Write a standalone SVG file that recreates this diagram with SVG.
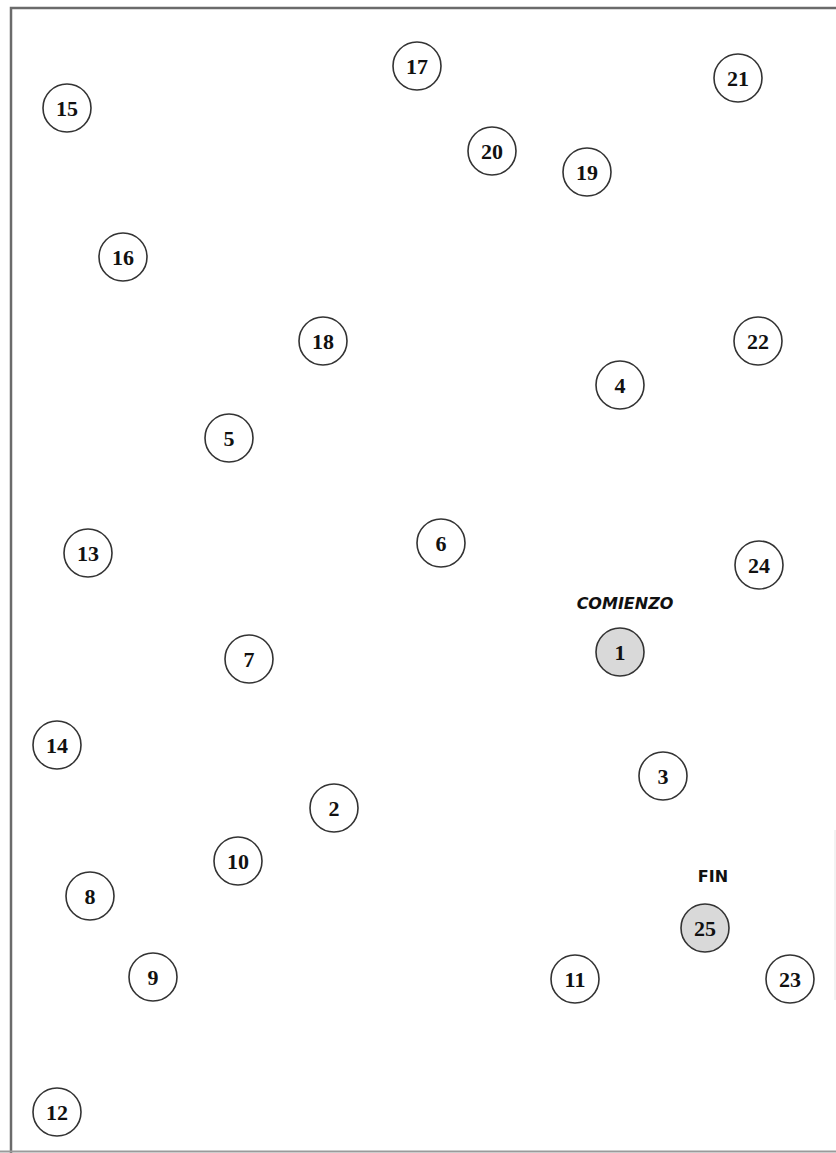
<svg xmlns="http://www.w3.org/2000/svg" width="836" height="1153" viewBox="0 0 836 1153">
<style>
.n circle{fill:#fff;stroke:#333;stroke-width:1.6}
.n.g circle{fill:#d9d9d9}
.n text{font-family:"Liberation Serif",serif;font-weight:bold;font-size:22px;fill:#111;text-anchor:middle}
.lbl{font-family:"DejaVu Sans",sans-serif;font-weight:bold;font-size:16px;fill:#111;text-anchor:middle}
.frame{fill:none;stroke:#6b6b6b;stroke-width:2.5}
</style>
<rect width="836" height="1153" fill="#fff"/>
<g id="frame">
<path class="frame" d="M11,1153 V8 H836"/>
<path d="M0,1151.5 H836" stroke="#9a9a9a" stroke-width="2" fill="none"/>
<path d="M835,830 V1000" stroke="#e6e6e6" stroke-width="1" fill="none"/>
</g>
<g id="connectors"></g>
<g id="n15" class="n"><circle cx="67" cy="108" r="24"/><text x="67" y="116">15</text></g>
<g id="n17" class="n"><circle cx="417" cy="66" r="24"/><text x="417" y="74">17</text></g>
<g id="n21" class="n"><circle cx="738" cy="78" r="24"/><text x="738" y="86">21</text></g>
<g id="n20" class="n"><circle cx="492" cy="151" r="24"/><text x="492" y="159">20</text></g>
<g id="n19" class="n"><circle cx="587" cy="172" r="24"/><text x="587" y="180">19</text></g>
<g id="n16" class="n"><circle cx="123" cy="257" r="24"/><text x="123" y="265">16</text></g>
<g id="n18" class="n"><circle cx="323" cy="341" r="24"/><text x="323" y="349">18</text></g>
<g id="n22" class="n"><circle cx="758" cy="341" r="24"/><text x="758" y="349">22</text></g>
<g id="n4" class="n"><circle cx="620" cy="385" r="24"/><text x="620" y="393">4</text></g>
<g id="n5" class="n"><circle cx="229" cy="438" r="24"/><text x="229" y="446">5</text></g>
<g id="n13" class="n"><circle cx="88" cy="553" r="24"/><text x="88" y="561">13</text></g>
<g id="n6" class="n"><circle cx="441" cy="543" r="24"/><text x="441" y="551">6</text></g>
<g id="n24" class="n"><circle cx="759" cy="565" r="24"/><text x="759" y="573">24</text></g>
<g id="n1" class="n g"><circle cx="620" cy="652" r="24"/><text x="620" y="660">1</text></g>
<g id="n7" class="n"><circle cx="249" cy="659" r="24"/><text x="249" y="667">7</text></g>
<g id="n14" class="n"><circle cx="57" cy="745" r="24"/><text x="57" y="753">14</text></g>
<g id="n3" class="n"><circle cx="663" cy="776" r="24"/><text x="663" y="784">3</text></g>
<g id="n2" class="n"><circle cx="334" cy="808" r="24"/><text x="334" y="816">2</text></g>
<g id="n10" class="n"><circle cx="238" cy="861" r="24"/><text x="238" y="869">10</text></g>
<g id="n8" class="n"><circle cx="90" cy="896" r="24"/><text x="90" y="904">8</text></g>
<g id="n25" class="n g"><circle cx="705" cy="928" r="24"/><text x="705" y="936">25</text></g>
<g id="n9" class="n"><circle cx="153" cy="977" r="24"/><text x="153" y="985">9</text></g>
<g id="n11" class="n"><circle cx="575" cy="979" r="24"/><text x="575" y="987">11</text></g>
<g id="n23" class="n"><circle cx="790" cy="979" r="24"/><text x="790" y="987">23</text></g>
<g id="n12" class="n"><circle cx="57" cy="1112" r="24"/><text x="57" y="1120">12</text></g>
<text class="lbl" x="625" y="609" font-style="italic">COMIENZO</text>
<text class="lbl" x="713" y="882">FIN</text>
</svg>
